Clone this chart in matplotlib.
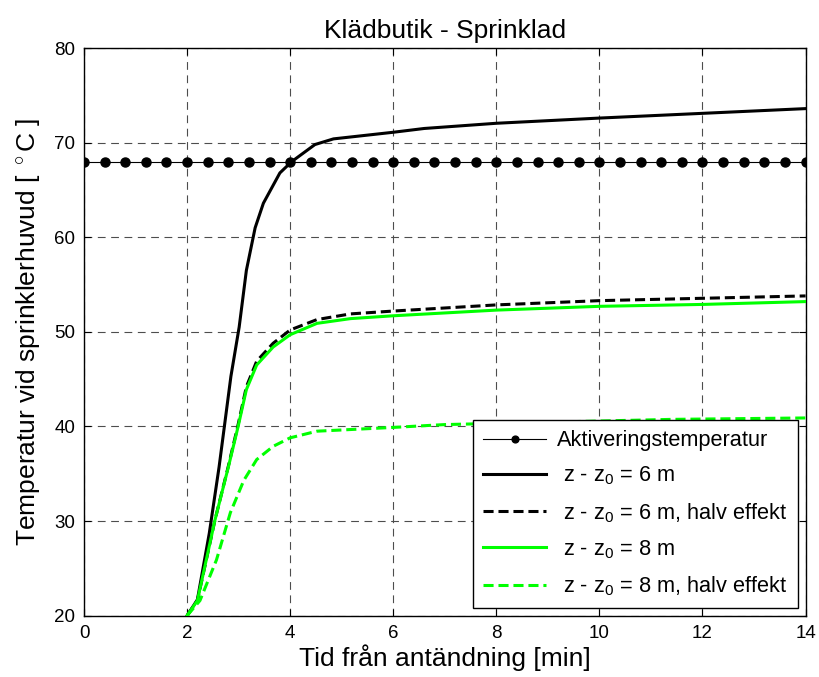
import numpy as np
import matplotlib
matplotlib.use("Agg")
import matplotlib.pyplot as plt

plt.rcParams['font.family'] = ['Liberation Sans', 'DejaVu Sans']
plt.rcParams['mathtext.fontset'] = 'custom'
plt.rcParams['mathtext.rm'] = 'Liberation Sans'
plt.rcParams['mathtext.it'] = 'Liberation Sans'

# activation temperature, markers every 0.4 min
t_akt = [round(0.4 * i, 1) for i in range(36)]
T_akt = [68] * len(t_akt)

# z - z0 = 6 m
t_6 = [2.0, 2.2, 2.43, 2.62, 2.85, 3.01, 3.15, 3.32, 3.48, 3.8, 4.03, 4.48, 4.84, 6.0, 6.6, 8, 10, 12, 14]
T_6 = [20, 21.7, 28.7, 35.7, 45.3, 50.5, 56.5, 61.0, 63.6, 66.8, 68.0, 69.8, 70.4, 71.1, 71.5, 72.05, 72.6, 73.1, 73.6]

# z - z0 = 6 m, halv effekt
t_6h = [2.0, 2.2, 2.54, 2.8, 2.99, 3.15, 3.35, 3.67, 4.0, 4.52, 5.17, 6.0, 8, 10, 12, 14]
T_6h = [20, 21.6, 30.1, 35.8, 40.2, 44.2, 46.9, 48.8, 50.2, 51.3, 51.9, 52.2, 52.85, 53.3, 53.55, 53.8]

# z - z0 = 8 m
t_8 = [2.0, 2.2, 2.54, 2.8, 2.99, 3.15, 3.35, 3.67, 4.0, 4.52, 5.17, 6.0, 8, 10, 12, 14]
T_8 = [20, 21.6, 30.1, 35.7, 40.0, 43.9, 46.5, 48.4, 49.7, 50.9, 51.4, 51.7, 52.3, 52.7, 52.9, 53.2]

# z - z0 = 8 m, halv effekt
t_8h = [2.0, 2.25, 2.57, 2.84, 3.1, 3.35, 3.67, 4.0, 4.52, 6.0, 7.0, 11.4, 14]
T_8h = [20, 21.6, 25.9, 30.9, 34.3, 36.5, 37.9, 38.8, 39.5, 39.9, 40.2, 40.75, 40.9]

xticks = [0, 2, 4, 6, 8, 10, 12, 14]
yticks = [20, 30, 40, 50, 60, 70, 80]

fig = plt.figure(figsize=(8.19, 6.77), dpi=100)
ax = fig.add_axes([0.1026, 0.0906, 0.881, 0.8384])

green = '#00ff00'
dash = (0, (3.3, 1.6))
ax.plot(t_akt, T_akt, color='black', lw=0.8, marker='o', markersize=6.5,
        label='Aktiveringstemperatur', zorder=3)
ax.plot(t_6, T_6, color='black', lw=2.2, label=' z - z$_0$ = 6 m', zorder=4)
ax.plot(t_6h, T_6h, color='black', lw=2.2, ls=dash,
        label=' z - z$_0$ = 6 m, halv effekt', zorder=4)
ax.plot(t_8, T_8, color=green, lw=2.2, label=' z - z$_0$ = 8 m', zorder=5)
ax.plot(t_8h, T_8h, color=green, lw=2.2, ls=dash,
        label=' z - z$_0$ = 8 m, halv effekt', zorder=5)

ax.set_xlim(0, 14)
ax.set_ylim(20, 80)
ax.set_xticks(xticks)
ax.set_yticks(yticks)
ax.tick_params(direction='in', top=True, right=True, labelsize=13.5, length=5, pad=6.5)
ax.grid(True, color='0.3', ls=(0, (7, 5)), lw=0.8)
for s in ax.spines.values():
    s.set_linewidth(1.0)

ax.set_title('Klädbutik - Sprinklad', fontsize=19, pad=7)
ax.set_xlabel('Tid från antändning [min]', fontsize=19, labelpad=2)
ax.set_ylabel('Temperatur vid sprinklerhuvud [ $^\\circ$C ]', fontsize=19, labelpad=9)

leg = ax.legend(loc='lower right', fontsize=15.7, fancybox=False, framealpha=1,
                edgecolor='black', borderaxespad=0.37, handlelength=2.9,
                handletextpad=0.5, labelspacing=0.62, borderpad=0.45,
                markerscale=0.75)
leg.get_frame().set_linewidth(1.0)

fig.savefig('out.png', dpi=100)
